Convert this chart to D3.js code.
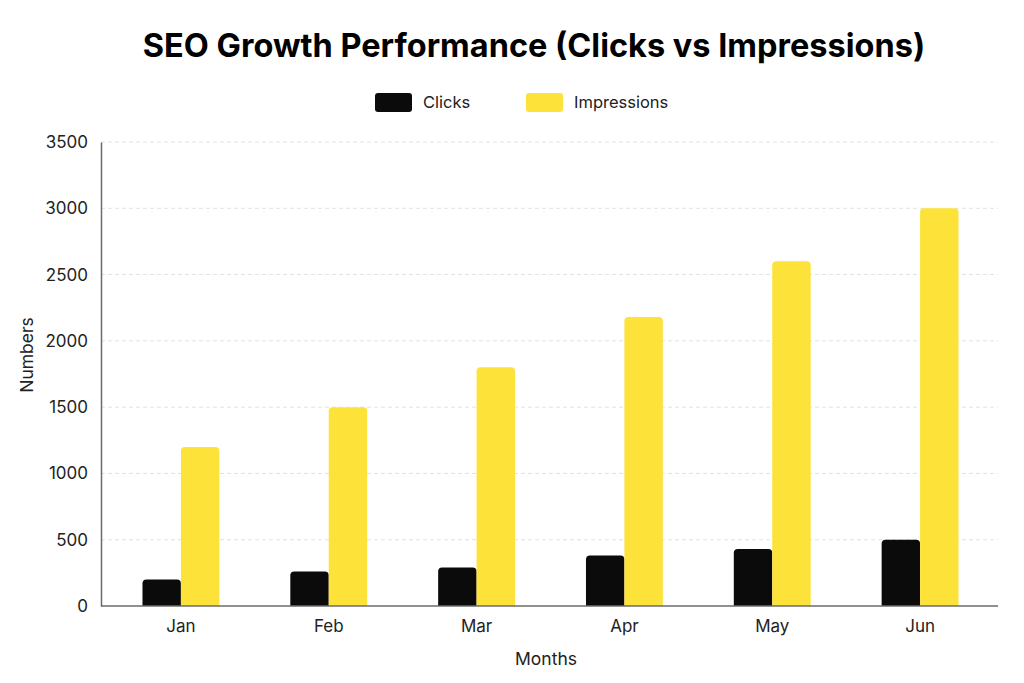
<!DOCTYPE html>
<html>
<head>
<meta charset="utf-8">
<script src="https://cdn.jsdelivr.net/npm/d3@7"></script>
<style>
  body { margin: 0; background: #fff; }
  svg { font-family: Inter, "Noto Sans", sans-serif; }
</style>
</head>
<body>
<div id="container"></div>
<script>
const WIDTH = 1024;
const HEIGHT = 683;
const MARGIN = {top: 142, right: 26, bottom: 77, left: 101};

var MONTHS = ["Jan", "Feb", "Mar", "Apr", "May", "Jun"];
var CLICKS = [200, 260, 290, 380, 430, 500];
var IMPRESSIONS = [1200, 1500, 1800, 2180, 2600, 3000];
var SERIES = ["Clicks", "Impressions"];
var Y_TICKS = [0, 500, 1000, 1500, 2000, 2500, 3000, 3500];
var COLORS = ["#0b0b0b", "#fde23a"];

var rows = MONTHS.map(function (m, i) {
    return {month: m, values: [CLICKS[i], IMPRESSIONS[i]]};
});

var topRounded = function (x, y, w, h, r) {
    r = Math.min(r, h, w / 2);
    return "M" + x + "," + (y + h) +
        "V" + (y + r) + "Q" + x + "," + y + " " + (x + r) + "," + y +
        "H" + (x + w - r) + "Q" + (x + w) + "," + y + " " + (x + w) + "," + (y + r) +
        "V" + (y + h) + "Z";
};

var svg = d3.select("#container").append("svg")
    .attr("width", WIDTH)
    .attr("height", HEIGHT);

var innerW = WIDTH - MARGIN.left - MARGIN.right;
var innerH = HEIGHT - MARGIN.top - MARGIN.bottom;

var x0 = d3.scaleBand().domain(MONTHS)
    .range([MARGIN.left + 6, MARGIN.left + innerW - 4])
    .paddingInner(0.48).paddingOuter(0.24);
var x1 = d3.scaleBand().domain(SERIES).range([0, x0.bandwidth()]);
var y = d3.scaleLinear().domain([0, 3500]).range([MARGIN.top + innerH, MARGIN.top]);

// title
svg.append("text")
    .attr("x", 534).attr("y", 57)
    .attr("text-anchor", "middle")
    .attr("font-size", 32.5).attr("font-weight", 700)
    .attr("fill", "#000")
    .text("SEO Growth Performance (Clicks vs Impressions)");

// legend
var legendX = [375, 526];
var legend = svg.selectAll(".legend").data(SERIES).enter().append("g")
    .attr("transform", function (d, i) { return "translate(" + legendX[i] + ",93)"; });
legend.append("rect")
    .attr("width", 37).attr("height", 19).attr("rx", 3)
    .attr("fill", function (d, i) { return COLORS[i]; });
legend.append("text")
    .attr("x", 48).attr("y", 15)
    .attr("font-size", 16.5).attr("fill", "#222")
    .text(function (d) { return d; });

// grid
svg.append("g").selectAll("line").data(Y_TICKS.slice(1)).enter().append("line")
    .attr("x1", MARGIN.left).attr("x2", MARGIN.left + innerW)
    .attr("y1", function (d) { return y(d); }).attr("y2", function (d) { return y(d); })
    .attr("stroke", "#e2e2e2").attr("stroke-dasharray", "4,3");

// bars
var groups = svg.append("g").selectAll("g").data(rows).enter().append("g")
    .attr("transform", function (d) { return "translate(" + x0(d.month) + ",0)"; });
groups.selectAll("path").data(function (d) { return d.values; }).enter().append("path")
    .attr("d", function (v, i) {
        return topRounded(x1(SERIES[i]), y(v), x1.bandwidth(), y(0) - y(v), 4);
    })
    .attr("fill", function (v, i) { return COLORS[i]; });

// axes
var yAxis = svg.append("g")
    .attr("transform", "translate(" + MARGIN.left + ",0)")
    .call(d3.axisLeft(y).tickValues(Y_TICKS).tickFormat(d3.format("d")).tickSize(0).tickPadding(13));
var xAxis = svg.append("g")
    .attr("transform", "translate(0," + y(0) + ")")
    .call(d3.axisBottom(x0).tickSize(0).tickPadding(14));
xAxis.select(".domain").attr("d", "M" + MARGIN.left + ",0H" + (MARGIN.left + innerW));
[yAxis, xAxis].forEach(function (a) {
    a.select(".domain").attr("stroke", "#6b6b6b").attr("stroke-width", 1.5);
    a.selectAll("text").attr("font-size", 17).attr("fill", "#222")
        .attr("font-family", "Inter, 'Noto Sans', sans-serif");
});

// axis titles
svg.append("text")
    .attr("x", 546).attr("y", 665)
    .attr("text-anchor", "middle")
    .attr("font-size", 17.5).attr("fill", "#222")
    .text("Months");
svg.append("text")
    .attr("transform", "translate(33,355) rotate(-90)")
    .attr("text-anchor", "middle")
    .attr("font-size", 17.5).attr("fill", "#222")
    .text("Numbers");
</script>
</body>
</html>
